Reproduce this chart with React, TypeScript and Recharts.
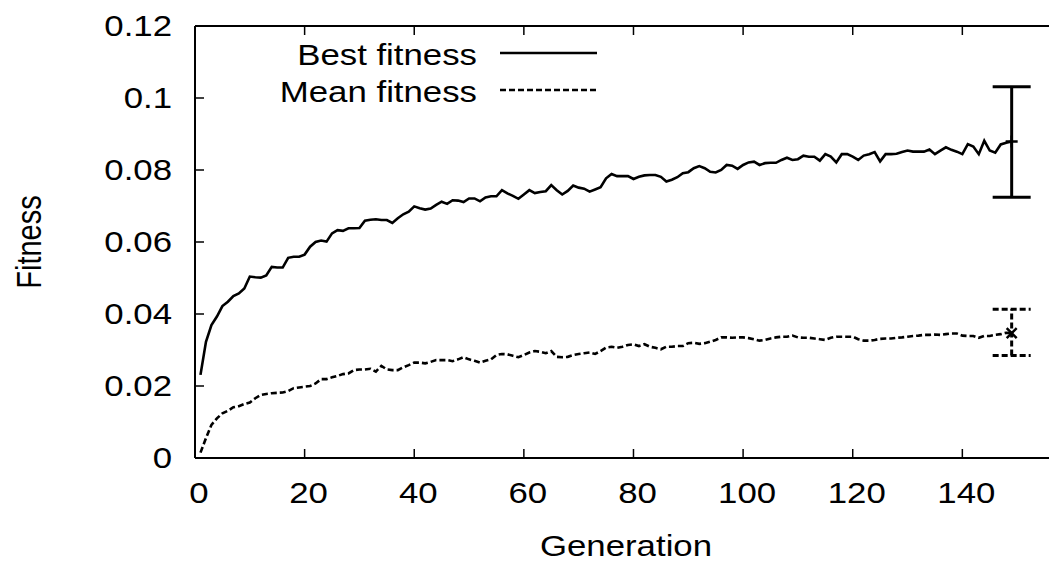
import { LineChart, Line, XAxis, YAxis, ErrorBar, Legend } from 'recharts';

// Fitness per generation, generations 1..149
const bestFitness = [
  0.0231, 0.0323, 0.0369, 0.0393, 0.0422, 0.0434, 0.0450, 0.0457, 0.0471, 0.0504,
  0.0502, 0.0501, 0.0507, 0.0531, 0.0529, 0.0529, 0.0556, 0.0559, 0.0559, 0.0565,
  0.0587, 0.0600, 0.0604, 0.0601, 0.0624, 0.0633, 0.0631, 0.0638, 0.0638, 0.0639,
  0.0659, 0.0662, 0.0663, 0.0661, 0.0661, 0.0653, 0.0666, 0.0677, 0.0684, 0.0699,
  0.0694, 0.0690, 0.0693, 0.0703, 0.0712, 0.0706, 0.0716, 0.0715, 0.0711, 0.0721,
  0.0721, 0.0713, 0.0724, 0.0727, 0.0727, 0.0744, 0.0735, 0.0728, 0.0720, 0.0732,
  0.0744, 0.0736, 0.0739, 0.0741, 0.0758, 0.0744, 0.0732, 0.0742, 0.0757, 0.0751,
  0.0748, 0.0740, 0.0746, 0.0752, 0.0777, 0.0789, 0.0783, 0.0783, 0.0783, 0.0775,
  0.0781, 0.0785, 0.0786, 0.0786, 0.0781, 0.0768, 0.0773, 0.0780, 0.0791, 0.0794,
  0.0805, 0.0811, 0.0805, 0.0795, 0.0793, 0.0800, 0.0814, 0.0812, 0.0803, 0.0814,
  0.0821, 0.0823, 0.0814, 0.0819, 0.0820, 0.0820, 0.0828, 0.0834, 0.0828, 0.0830,
  0.0840, 0.0837, 0.0837, 0.0826, 0.0844, 0.0837, 0.0821, 0.0844, 0.0844, 0.0837,
  0.0828, 0.0840, 0.0844, 0.0850, 0.0824, 0.0844, 0.0844, 0.0845, 0.0850, 0.0854,
  0.0851, 0.0851, 0.0851, 0.0857, 0.0844, 0.0854, 0.0863, 0.0856, 0.0851, 0.0844,
  0.0872, 0.0865, 0.0844, 0.0881, 0.0854, 0.0848, 0.0871, 0.0876, 0.0879,
];

const meanFitness = [
  0.0015, 0.0055, 0.0092, 0.0110, 0.0124, 0.0131, 0.0141, 0.0144, 0.0150, 0.0154,
  0.0166, 0.0175, 0.0178, 0.0180, 0.0181, 0.0182, 0.0186, 0.0194, 0.0196, 0.0198,
  0.0200, 0.0207, 0.0219, 0.0219, 0.0224, 0.0228, 0.0233, 0.0235, 0.0244, 0.0246,
  0.0246, 0.0248, 0.0240, 0.0256, 0.0246, 0.0244, 0.0244, 0.0252, 0.0258, 0.0265,
  0.0265, 0.0263, 0.0267, 0.0272, 0.0272, 0.0272, 0.0269, 0.0274, 0.0280, 0.0274,
  0.0270, 0.0265, 0.0270, 0.0274, 0.0286, 0.0289, 0.0288, 0.0284, 0.0280, 0.0286,
  0.0293, 0.0297, 0.0295, 0.0291, 0.0297, 0.0281, 0.0280, 0.0281, 0.0286, 0.0289,
  0.0291, 0.0293, 0.0289, 0.0297, 0.0307, 0.0309, 0.0306, 0.0309, 0.0314, 0.0316,
  0.0311, 0.0316, 0.0309, 0.0306, 0.0302, 0.0309, 0.0309, 0.0311, 0.0311, 0.0319,
  0.0320, 0.0317, 0.0319, 0.0323, 0.0328, 0.0335, 0.0335, 0.0334, 0.0335, 0.0335,
  0.0333, 0.0330, 0.0326, 0.0328, 0.0332, 0.0335, 0.0337, 0.0337, 0.0340, 0.0335,
  0.0334, 0.0334, 0.0332, 0.0330, 0.0328, 0.0334, 0.0337, 0.0337, 0.0337, 0.0337,
  0.0330, 0.0326, 0.0326, 0.0328, 0.0331, 0.0332, 0.0332, 0.0334, 0.0335, 0.0337,
  0.0339, 0.0340, 0.0342, 0.0342, 0.0343, 0.0342, 0.0344, 0.0346, 0.0346, 0.0340,
  0.0339, 0.0339, 0.0334, 0.0339, 0.0339, 0.0342, 0.0344, 0.0348, 0.0347,
];

// spread over runs at the final generation [low, high]
const bestRange = [0.0724, 0.1031];
const meanRange = [0.0285, 0.0413];

const xTicks = [0, 20, 40, 60, 80, 100, 120, 140];
const yTicks = [0, 0.02, 0.04, 0.06, 0.08, 0.1, 0.12];

const generations = bestFitness.map((_, i) => i + 1);
const last = generations.length - 1;

const data = generations.map((gen, i) => ({
  gen,
  best: bestFitness[i],
  mean: meanFitness[i],
  bestErr: i === last ? [bestFitness[i] - bestRange[0], bestRange[1] - bestFitness[i]] : undefined,
  meanErr: i === last ? [meanFitness[i] - meanRange[0], meanRange[1] - meanFitness[i]] : undefined,
}));

const FONT = '"Liberation Sans", Arial, Helvetica, sans-serif';
const FONT_SIZE = 29;
const STRETCH = 1.2; // text is drawn a bit wide
const TICK_LEN = 9;
const X_LABEL_GAP = 45;
const Y_LABEL_GAP = 23;
const DASH = '6 3';

const seriesStyle: Record<string, { dash?: string }> = {
  best: {},
  mean: { dash: DASH },
};

function WideText({ x, y, anchor = 'middle', children }: any) {
  return (
    <text
      transform={`translate(${x},${y}) scale(${STRETCH},1)`}
      textAnchor={anchor}
      fontFamily={FONT}
      fontSize={FONT_SIZE}
      fill="#000"
    >
      {children}
    </text>
  );
}

function BottomTick({ x, y, payload }: any) {
  const axisY = y - X_LABEL_GAP;
  return (
    <g>
      <line x1={x} y1={axisY} x2={x} y2={axisY - TICK_LEN} stroke="#000" strokeWidth={1.5} />
      <WideText x={x + 4} y={y}>{payload.value}</WideText>
    </g>
  );
}

function LeftTick({ x, y, payload }: any) {
  const axisX = x + Y_LABEL_GAP;
  return (
    <g>
      <line x1={axisX} y1={y} x2={axisX + TICK_LEN} y2={y} stroke="#000" strokeWidth={1.5} />
      <WideText x={x} y={y + 10} anchor="end">{String(payload.value)}</WideText>
    </g>
  );
}

function TopTick({ x, y }: any) {
  return <line x1={x} y1={y} x2={x} y2={y + TICK_LEN} stroke="#000" strokeWidth={1.5} />;
}

function RightTick({ x, y }: any) {
  return <line x1={x} y1={y} x2={x - TICK_LEN} y2={y} stroke="#000" strokeWidth={1.5} />;
}

function LegendBox({ payload }: any) {
  return (
    <svg width={620} height={110} style={{ display: 'block', overflow: 'visible' }}>
      {(payload || []).map((entry: any, i: number) => {
        const lineY = 45 + i * 37;
        const style = seriesStyle[entry.dataKey] || {};
        return (
          <g key={entry.value}>
            <WideText x={469} y={lineY + 12} anchor="end">{entry.value}</WideText>
            <line
              x1={492}
              y1={lineY}
              x2={589}
              y2={lineY}
              stroke="#000"
              strokeWidth={2.6}
              strokeDasharray={style.dash}
            />
          </g>
        );
      })}
    </svg>
  );
}

function PlusDot({ cx, cy, index }: any) {
  if (index !== last) return <g key={`p-${index}`} />;
  return (
    <path
      key={`p-${index}`}
      d={`M${cx - 6},${cy}H${cx + 6}M${cx},${cy - 6}V${cy + 6}`}
      stroke="#000"
      strokeWidth={2.5}
    />
  );
}

function CrossDot({ cx, cy, index }: any) {
  if (index !== last) return <g key={`c-${index}`} />;
  return (
    <path
      key={`c-${index}`}
      d={`M${cx - 5},${cy - 5}L${cx + 5},${cy + 5}M${cx - 5},${cy + 5}L${cx + 5},${cy - 5}`}
      stroke="#000"
      strokeWidth={2.5}
    />
  );
}

export default function App() {
  return (
    <div
      style={{
        width: 1049,
        height: 557,
        marginBottom: -8,
        overflow: 'hidden',
        position: 'relative',
        background: '#fff',
      }}
    >
      <LineChart width={1080} height={557} data={data} margin={{ top: 0, right: 0, bottom: 0, left: 0 }}>
        <XAxis
          xAxisId="bottom"
          dataKey="gen"
          type="number"
          domain={[0, 158]}
          ticks={xTicks}
          interval={0}
          orientation="bottom"
          height={107}
          tickSize={0}
          tickMargin={X_LABEL_GAP}
          tickLine={false}
          axisLine={{ stroke: '#000', strokeWidth: 2 }}
          tick={<BottomTick />}
          label={{
            content: () => <WideText x={618} y={548}>Generation</WideText>,
          }}
        />
        <XAxis
          xAxisId="top"
          dataKey="gen"
          type="number"
          domain={[0, 158]}
          ticks={xTicks}
          interval={0}
          orientation="top"
          height={18}
          tickSize={0}
          tickMargin={0}
          tickLine={false}
          axisLine={{ stroke: '#000', strokeWidth: 2 }}
          tick={<TopTick />}
        />
        <YAxis
          yAxisId="left"
          type="number"
          domain={[0, 0.12]}
          ticks={yTicks}
          interval={0}
          allowDataOverflow
          orientation="left"
          width={187}
          tickSize={0}
          tickMargin={Y_LABEL_GAP}
          tickLine={false}
          axisLine={{ stroke: '#000', strokeWidth: 2 }}
          tick={<LeftTick />}
          label={{
            content: () => (
              <text
                transform={`translate(33,234) scale(${STRETCH},1) rotate(-90)`}
                textAnchor="middle"
                fontFamily={FONT}
                fontSize={FONT_SIZE}
                fill="#000"
              >
                Fitness
              </text>
            ),
          }}
        />
        <YAxis
          yAxisId="right"
          type="number"
          domain={[0, 0.12]}
          ticks={yTicks}
          interval={0}
          allowDataOverflow
          orientation="right"
          width={27}
          tickSize={0}
          tickMargin={0}
          tickLine={false}
          axisLine={{ stroke: '#000', strokeWidth: 2 }}
          tick={<RightTick />}
        />
        <Legend
          layout="vertical"
          align="center"
          verticalAlign="middle"
          wrapperStyle={{ position: 'absolute', left: 0, top: 0, width: 620, height: 110 }}
          content={<LegendBox />}
        />
        <Line
          xAxisId="bottom"
          yAxisId="left"
          dataKey="best"
          name="Best fitness"
          type="linear"
          stroke="#000"
          strokeWidth={2.6}
          dot={PlusDot}
          activeDot={false}
          isAnimationActive={false}
        >
          <ErrorBar dataKey="bestErr" direction="y" width={19} stroke="#000" strokeWidth={3} />
        </Line>
        <Line
          xAxisId="bottom"
          yAxisId="left"
          dataKey="mean"
          name="Mean fitness"
          type="linear"
          stroke="#000"
          strokeWidth={2.6}
          strokeDasharray={DASH}
          dot={CrossDot}
          activeDot={false}
          isAnimationActive={false}
        >
          <ErrorBar
            dataKey="meanErr"
            direction="y"
            width={19}
            stroke="#000"
            strokeWidth={3}
            strokeDasharray={DASH}
          />
        </Line>
      </LineChart>
    </div>
  );
}
